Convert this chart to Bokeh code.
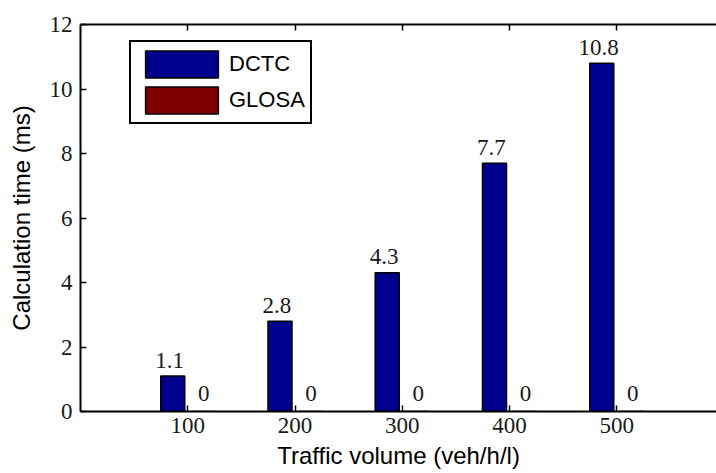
from bokeh.plotting import figure
from bokeh.models import ColumnDataSource, LinearAxis, FixedTicker, Range1d, Legend, LegendItem
from bokeh.transform import dodge
from bokeh.core.properties import value
from bokeh.embed import file_html
from bokeh.resources import INLINE

volumes = [100, 200, 300, 400, 500]
dctc = [1.1, 2.8, 4.3, 7.7, 10.8]
glosa = [0, 0, 0, 0, 0]
y_ticks = [0, 2, 4, 6, 8, 10, 12]

src = ColumnDataSource(dict(
    x=volumes,
    dctc=dctc,
    glosa=glosa,
    dctc_lbl=[f"{v:g}" for v in dctc],
    glosa_lbl=[f"{v:g}" for v in glosa],
))

p = figure(width=716, height=473, output_backend="svg", toolbar_location=None,
           x_range=Range1d(0, 593), y_range=Range1d(0, 12),
           min_border_left=80, min_border_right=0, min_border_top=24, min_border_bottom=62)
p.outline_line_color = None
p.xgrid.visible = False
p.ygrid.visible = False
p.background_fill_color = "white"
p.border_fill_color = "white"

serif = "Liberation Serif"
sans = "Liberation Sans"

r1 = p.vbar(x=dodge("x", -14, range=p.x_range), top="dctc", width=22.4, source=src,
            fill_color="#00008f", line_color="black", line_width=1.5)
r2 = p.vbar(x=dodge("x", 14, range=p.x_range), top="glosa", width=22.4, source=src,
            fill_color="#800000", line_color="black", line_width=1.5)

p.text(x=dodge("x", -14, range=p.x_range), y="dctc", text="dctc_lbl", source=src,
       text_align="center", text_baseline="alphabetic", y_offset=-16, x_offset=-3,
       text_font=value(serif), text_font_size="23px", text_color="#1a1a1a")
p.text(x=dodge("x", 14, range=p.x_range), y="glosa", text="glosa_lbl", source=src,
       text_align="center", text_baseline="alphabetic", y_offset=-18, x_offset=1,
       text_font=value(serif), text_font_size="23px", text_color="#1a1a1a")

def style_axis(ax):
    ax.axis_line_width = 2
    ax.axis_line_color = "black"
    ax.major_tick_line_width = 1.5
    ax.major_tick_line_color = "black"
    ax.major_tick_in = 6
    ax.major_tick_out = 0
    ax.minor_tick_line_color = None
    ax.major_label_text_font = serif
    ax.major_label_text_font_size = "23px"
    ax.major_label_text_color = "#1a1a1a"
    ax.axis_label_text_font = sans
    ax.axis_label_text_font_size = "24px"
    ax.axis_label_text_font_style = "normal"
    ax.axis_label_text_color = "black"

xa = p.xaxis[0]
xa.ticker = FixedTicker(ticks=volumes)
xa.axis_label = "Traffic volume (veh/h/l)"
style_axis(xa)
xa.major_label_standoff = 6
xa.axis_label_standoff = 6

ya = p.yaxis[0]
ya.ticker = FixedTicker(ticks=y_ticks)
ya.axis_label = "Calculation time (ms)"
style_axis(ya)
ya.major_label_standoff = 8
ya.axis_label_standoff = 12

top = LinearAxis(ticker=FixedTicker(ticks=volumes))
style_axis(top)
top.major_label_text_font_size = "1px"
top.major_label_text_color = None
top.major_label_standoff = 0
p.add_layout(top, "above")

legend = Legend(items=[LegendItem(label="DCTC", renderers=[r1]),
                       LegendItem(label="GLOSA", renderers=[r2])],
                location=(49, 287))
legend.border_line_color = "black"
legend.border_line_width = 2
legend.border_line_alpha = 1
legend.padding = 5
legend.margin = 0
legend.spacing = 2
legend.glyph_width = 91
legend.glyph_height = 34
legend.label_height = 34
legend.label_standoff = 2
legend.label_text_font = sans
legend.label_text_font_size = "22px"
legend.label_text_color = "black"
legend.background_fill_alpha = 1
p.add_layout(legend, "center")

open("out.html", "w").write(file_html(p, INLINE))
